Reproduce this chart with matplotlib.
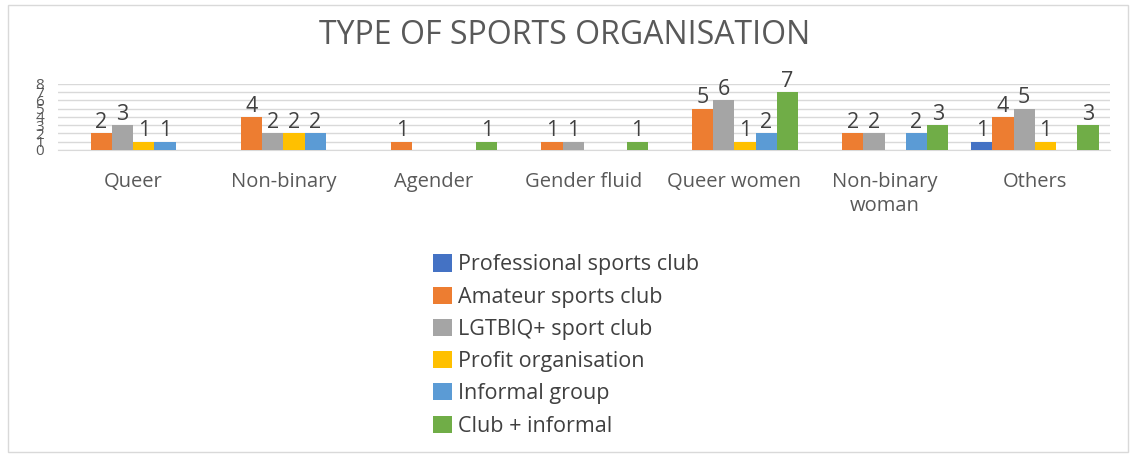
import matplotlib
matplotlib.use("Agg")
import matplotlib.pyplot as plt
import numpy as np
from matplotlib.patches import Rectangle

plt.rcParams['font.family'] = ['Open Sans', 'DejaVu Sans']

categories = ["Queer", "Non-binary", "Agender", "Gender fluid", "Queer women", "Non-binary\nwoman", "Others"]
series_names = ["Professional sports club", "Amateur sports club", "LGTBIQ+ sport club",
                "Profit organisation", "Informal group", "Club + informal"]
professional = [0, 0, 0, 0, 0, 0, 1]
amateur = [2, 4, 1, 1, 5, 2, 4]
lgtbiq = [3, 2, 0, 1, 6, 2, 5]
profit = [1, 2, 0, 0, 1, 0, 1]
informal = [1, 2, 0, 0, 2, 2, 0]
club_informal = [0, 0, 1, 1, 7, 3, 3]
yticks = [0, 1, 2, 3, 4, 5, 6, 7, 8]

series = [professional, amateur, lgtbiq, profit, informal, club_informal]
colors = ["#4472C4", "#ED7D31", "#A5A5A5", "#FFC000", "#5B9BD5", "#70AD47"]

fig = plt.figure(figsize=(11.3, 4.57), dpi=100)
fig.patches.append(Rectangle((8/1130, 5/457), 1120/1130, 447/457, transform=fig.transFigure,
                             fill=False, edgecolor="#D9D9D9", linewidth=1))
ax = fig.add_axes([58/1130, 1-150/457, 1052/1130, 66/457])

x = np.arange(len(categories))
n = len(series)
w = 1/7.07
for i, (vals, c, name) in enumerate(zip(series, colors, series_names)):
    pos = x + (i - (n-1)/2) * w
    bars = ax.bar(pos, vals, width=w, color=c, label=name, zorder=3)
    for b, v in zip(bars, vals):
        if v > 0:
            ax.text(b.get_x() + b.get_width()/2, v + 0.05, str(v), ha="center", va="bottom",
                    fontsize=15.5, color="#404040")

ax.set_xlim(-0.5, len(categories)-0.5)
ax.set_ylim(0, 8)
ax.set_yticks(yticks)
ax.set_yticklabels([str(t) for t in yticks], fontsize=11, color="#595959")
ax.yaxis.grid(True, color="#D9D9D9", linewidth=1, zorder=0)
ax.set_xticks(x)
ax.set_xticklabels(categories, fontsize=14.5, color="#595959", linespacing=1.25)
ax.tick_params(axis="x", length=0, pad=16)
ax.tick_params(axis="y", length=0, pad=10)
for s in ["top", "right", "left"]:
    ax.spines[s].set_visible(False)
ax.spines["bottom"].set_color("#D9D9D9")

fig.text(0.5, 1-35/457, "TYPE OF SPORTS ORGANISATION", ha="center", va="center",
         fontsize=23, color="#595959")

fig.legend(loc="upper left", bbox_to_anchor=(414/1130, 1-235/457), frameon=False,
           fontsize=15.5, handlelength=0.85, handleheight=0.85, handletextpad=0.3,
           labelspacing=0.52, labelcolor="#404040")

fig.savefig("out.png", dpi=100)
